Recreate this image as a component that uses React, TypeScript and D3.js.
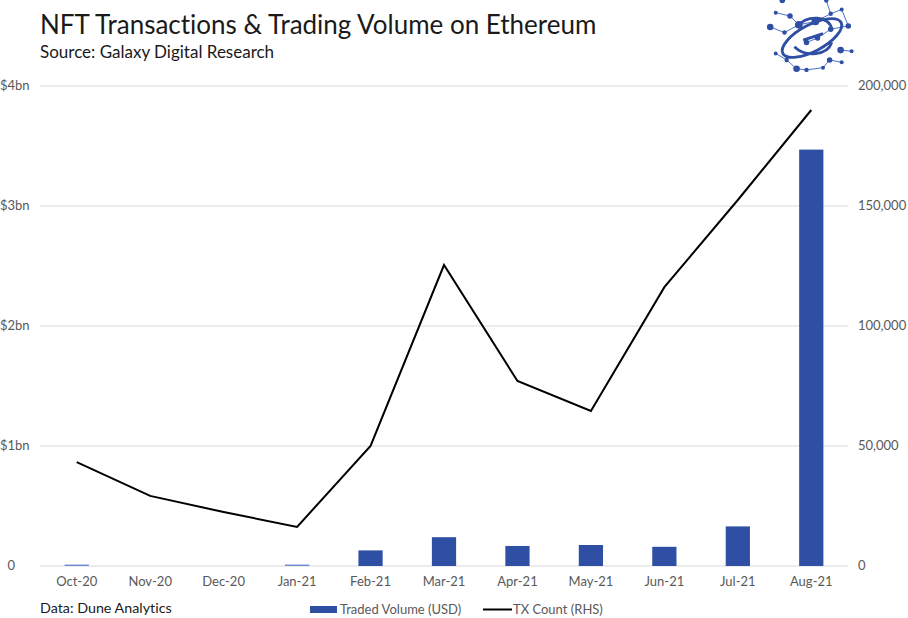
import React from 'react';
import * as d3 from 'd3';

const months = ['Oct-20', 'Nov-20', 'Dec-20', 'Jan-21', 'Feb-21', 'Mar-21', 'Apr-21', 'May-21', 'Jun-21', 'Jul-21', 'Aug-21'];
const volumeBn = [0.012, 0, 0, 0.012, 0.13, 0.24, 0.167, 0.175, 0.16, 0.33, 3.47];
const txCount = [43300, 29200, 22500, 16300, 50000, 125400, 77100, 64600, 116200, 152500, 190000];
const leftTicks = [0, 1, 2, 3, 4];
const rightTicks = [0, 50000, 100000, 150000, 200000];

// logo nodes, relative to logo centre
const logoNodes: [number, number, number][] = [
  [-27, -34, 2.5], [-13, -38, 2], [5, -40, 2], [13, -34, 2], [-33, -23, 1.8], [-20, -20, 2.5],
  [-38, -10, 3], [-25, -5, 2], [-12, -12, 3.5], [3, -15, 3.5], [17, -22, 2], [27, -26, 1.8],
  [33, -11, 2.5], [5, 0, 2.5], [17, -8, 2.5], [-5, 4, 2.5], [26, 11, 3], [36, 12, 1.8], [-33, 14, 1.8],
  [-23, 20, 2], [-14, 28, 3], [-5, 29, 2], [10, 27, 1.8], [16, 20, 2.5], [27, 22, 1.8],
];
const logoLinks: [number, number][] = [
  [0, 1], [1, 2], [2, 3], [4, 5], [5, 8], [6, 7], [7, 8], [8, 9], [9, 10], [10, 11], [11, 12],
  [12, 14], [13, 14], [15, 13], [16, 17], [18, 19], [19, 20], [20, 21], [21, 22], [22, 23], [23, 24], [3, 10],
];

const W = 908;
const H = 618;
const left = 40;
const right = 848;
const top = 86;
const bottom = 566;
const blue = '#2E4FA3';
const font = 'Lato, "Open Sans", sans-serif';

export default function App() {
  const x = d3.scaleBand<string>().domain(months).range([left, right]).paddingInner(0.67).paddingOuter(0.335);
  const yL = d3.scaleLinear().domain([0, 4]).range([bottom, top]);
  const yR = d3.scaleLinear().domain([0, 200000]).range([bottom, top]);
  const fmt = d3.format(',');
  const line = d3.line<number>()
    .x((_, i) => (x(months[i]) as number) + x.bandwidth() / 2)
    .y((d) => yR(d));

  const lx = 812;
  const ly = 38;

  return (
    <div style={{ position: 'fixed', left: 0, top: 0 }}>
      <svg width={W} height={H} style={{ display: 'block', background: '#fff', fontVariantLigatures: 'none' }} fontFamily={font}>
        <text x={40} y={34} fontSize={26} fill="#1a1a1a">NFT Transactions &amp; Trading Volume on Ethereum</text>
        <text x={40} y={58} fontSize={17} fill="#1a1a1a">Source: Galaxy Digital Research</text>

        {/* logo */}
        <g transform={`translate(${lx},${ly}) scale(1.1)`}>
          {logoLinks.map(([a, b], i) => (
            <line key={i} x1={logoNodes[a][0]} y1={logoNodes[a][1]} x2={logoNodes[b][0]} y2={logoNodes[b][1]}
              stroke="#4a6fcf" strokeWidth={0.9} />
          ))}
          <ellipse cx={0} cy={0} rx={30} ry={12} transform="rotate(-28)" fill="none" stroke={blue} strokeWidth={2.6} />
          <path d="M-14,-10 C-4,-22 16,-20 18,-8 M-16,8 C-6,18 14,16 18,4 M-8,2 L10,-4" fill="none" stroke={blue} strokeWidth={2.6} />
          {logoNodes.map(([cx, cy, r], i) => (
            <circle key={i} cx={cx} cy={cy} r={r} fill={blue} />
          ))}
        </g>

        {/* gridlines */}
        {leftTicks.map((t) => (
          <line key={t} x1={left} x2={right} y1={yL(t)} y2={yL(t)} stroke="#d9d9d9" strokeWidth={1} />
        ))}

        {/* left axis labels */}
        {leftTicks.map((t) => (
          <text key={t} x={t === 0 ? 15 : 0} y={yL(t) + 4} fontSize={13} fill="#595959" textAnchor={t === 0 ? 'end' : 'start'}>
            {t === 0 ? '0' : `$${t}bn`}
          </text>
        ))}

        {/* right axis labels */}
        {rightTicks.map((t) => (
          <text key={t} x={858} y={yR(t) + 4} fontSize={13} fill="#595959">
            {fmt(t)}
          </text>
        ))}

        {/* bars */}
        {volumeBn.map((v, i) => (
          v > 0 ? (
            <rect key={months[i]} x={x(months[i])} y={yL(v)} width={x.bandwidth()} height={bottom - yL(v)}
              fill={v < 0.05 ? '#6f8bd6' : blue} />
          ) : null
        ))}

        {/* tx count line */}
        <path d={line(txCount) ?? ''} fill="none" stroke="#000" strokeWidth={2} strokeLinejoin="miter" />

        {/* x labels */}
        {months.map((m) => (
          <text key={m} x={(x(m) as number) + x.bandwidth() / 2} y={586} fontSize={13} fill="#595959" textAnchor="middle">{m}</text>
        ))}

        <text x={40} y={613} fontSize={14.3} fill="#1a1a1a">Data: Dune Analytics</text>

        {/* legend */}
        <rect x={310} y={606} width={27} height={7} fill={blue} />
        <text x={340} y={614} fontSize={13} fill="#595959">Traded Volume (USD)</text>
        <line x1={483} x2={512} y1={609.5} y2={609.5} stroke="#000" strokeWidth={2} />
        <text x={513} y={614} fontSize={13} fill="#595959">TX Count (RHS)</text>
      </svg>
    </div>
  );
}
